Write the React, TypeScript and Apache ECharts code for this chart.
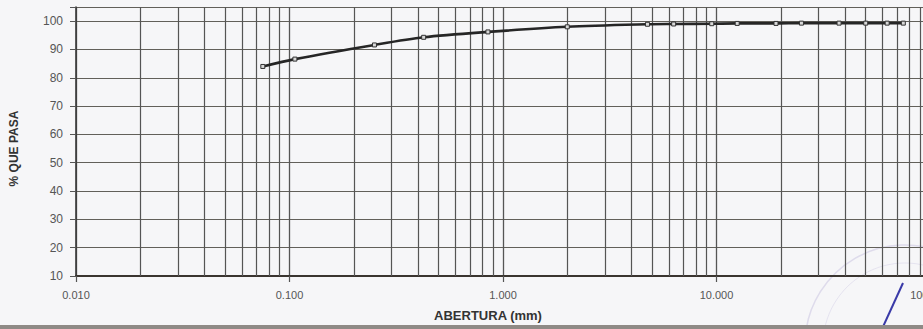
import React, { useEffect, useRef } from "react";
import * as echarts from "echarts";

const sieveOpenings = [0.075, 0.106, 0.25, 0.425, 0.85, 2.0, 4.75, 6.3, 9.5, 12.5, 19.0, 25.0, 37.5, 50.0, 63.0, 75.0];
const percentPassing = [84.0, 86.6, 91.6, 94.3, 96.2, 98.0, 98.9, 99.0, 99.1, 99.2, 99.2, 99.3, 99.3, 99.3, 99.3, 99.3];
const minorMultipliers = [2, 3, 4, 5, 6, 7, 8, 9];
const decades = [0.01, 0.1, 1, 10];
const xTitle = "ABERTURA (mm)";
const yTitle = "% QUE PASA";

export default function App() {
  const ref = useRef<HTMLDivElement>(null);
  useEffect(() => {
    if (!ref.current) return;
    const chart = echarts.init(ref.current, undefined, { renderer: "svg" });
    const minorLines: any[] = [];
    decades.forEach((d) => minorMultipliers.forEach((m) => minorLines.push({ xAxis: +(d * m).toFixed(4) })));
    const gridColor = "#555555";
    chart.setOption({
      animation: false,
      backgroundColor: "#f6f6f8",
      grid: { left: 76, top: 7, width: 854, height: 269, outerBoundsMode: "none", containLabel: false },
      xAxis: {
        type: "log",
        logBase: 10,
        min: 0.01,
        max: 100,
        name: xTitle,
        nameLocation: "middle",
        nameGap: 33,
        nameTextStyle: { fontFamily: "Liberation Sans", fontSize: 13, fontWeight: "bold", color: "#333", padding: [0, 30, 0, 0] },
        axisLine: { show: true, lineStyle: { color: "#3a3530", width: 2 } },
        axisTick: { show: true, length: 6, lineStyle: { color: gridColor, width: 1.2 } },
        axisLabel: {
          fontFamily: "Liberation Sans",
          fontSize: 11,
          color: "#555",
          margin: 13,
          formatter: (v: number) => v.toFixed(3),
        },
        splitLine: { show: true, lineStyle: { color: gridColor, width: 1.3 } },
      },
      yAxis: {
        type: "value",
        min: 10,
        max: 105,
        interval: 10,
        name: yTitle,
        nameLocation: "middle",
        nameGap: 56,
        nameRotate: 90,
        nameTextStyle: { fontFamily: "Liberation Sans", fontSize: 12, fontWeight: "bold", color: "#333", padding: [0, 14, 0, 0] },
        axisLine: { show: true, lineStyle: { color: "#3a3a3a", width: 1.6 } },
        axisTick: { show: true, length: 6, lineStyle: { color: gridColor, width: 1 } },
        axisLabel: {
          fontFamily: "Liberation Sans",
          fontSize: 12,
          color: "#555",
          margin: 13,
          formatter: (v: number) => (v > 100 ? "" : String(v)),
        },
        splitLine: { show: true, lineStyle: { color: "#62605a", width: 1.2 } },
      },
      series: [
        {
          type: "line",
          data: sieveOpenings.map((x, i) => [x, percentPassing[i]]),
          smooth: 0.3,
          symbol: "rect",
          symbolSize: 4,
          itemStyle: { color: "#d8d8d8", borderColor: "#333", borderWidth: 1 },
          lineStyle: { color: "#262626", width: 2.6 },
          markLine: {
            silent: true,
            symbol: "none",
            label: { show: false },
            lineStyle: { color: gridColor, width: 1.2, type: "solid" },
            data: minorLines,
          },
          z: 5,
        },
      ],
      graphic: [
        {
          type: "circle",
          shape: { cx: 905, cy: 345, r: 100 },
          style: { fill: "none", stroke: "rgba(150,140,200,0.25)", lineWidth: 1.5 },
          silent: true,
        },
        {
          type: "circle",
          shape: { cx: 905, cy: 345, r: 82 },
          style: { fill: "none", stroke: "rgba(150,140,200,0.18)", lineWidth: 1 },
          silent: true,
        },
        {
          type: "line",
          shape: { x1: 903, y1: 283, x2: 882, y2: 329 },
          style: { stroke: "#3a3aa8", lineWidth: 2 },
          silent: true,
        },
        {
          type: "rect",
          shape: { x: 0, y: 325, width: 923, height: 4 },
          style: { fill: "#8f8a86" },
          silent: true,
        },
      ],
    });
    return () => chart.dispose();
  }, []);
  return <div ref={ref} style={{ position: "fixed", left: 0, top: 0, width: 923, height: 329 }} />;
}
